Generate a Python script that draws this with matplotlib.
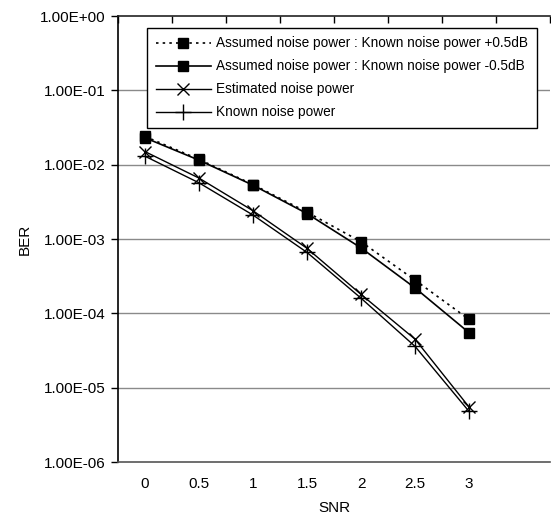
import matplotlib.pyplot as plt
import numpy as np

plt.rcParams['font.family'] = ['Liberation Sans', 'DejaVu Sans']

# ── data ─────────────────────────────────────────────────────────────────────
snr = [0, 0.5, 1, 1.5, 2, 2.5, 3]
ber_plus05 = [0.024, 0.0118, 0.0054, 0.0023, 9.2e-4, 2.8e-4, 8.3e-5]
ber_minus05 = [0.023, 0.0115, 0.0053, 0.0022, 7.6e-4, 2.2e-4, 5.5e-5]
ber_estimated = [0.015, 0.0066, 0.0024, 7.5e-4, 1.8e-4, 4.5e-5, 5.5e-6]
ber_known = [0.013, 0.0057, 0.0021, 6.6e-4, 1.6e-4, 3.6e-5, 4.8e-6]

labels = ['Assumed noise power : Known noise power +0.5dB',
          'Assumed noise power : Known noise power -0.5dB',
          'Estimated noise power',
          'Known noise power']
yticks = [1e0, 1e-1, 1e-2, 1e-3, 1e-4, 1e-5, 1e-6]
ytick_labels = ['1.00E+00', '1.00E-01', '1.00E-02', '1.00E-03',
                '1.00E-04', '1.00E-05', '1.00E-06']
xtick_labels = ['0', '0.5', '1', '1.5', '2', '2.5', '3']

fig = plt.figure(figsize=(5.51, 5.22), dpi=100)
fig.patch.set_facecolor('white')
ax = fig.add_axes([0.2142, 0.1149, 0.784, 0.8544])

ax.set_yscale('log')
ax.set_ylim(1e-6, 1e0)
ax.set_xlim(-0.25, 3.75)

# gridlines
for v in yticks[1:-1]:
    ax.axhline(v, color='#8a8a8a', lw=1.0, zorder=1)

ax.plot(snr, ber_plus05, color='black', ls=(0, (1.5, 2.5)), lw=1.2,
        marker='s', ms=6.5, mfc='black', mec='black', label=labels[0], zorder=3)
ax.plot(snr, ber_minus05, color='black', ls='-', lw=1.2,
        marker='s', ms=6.5, mfc='black', mec='black', label=labels[1], zorder=3)
ax.plot(snr, ber_estimated, color='black', ls='-', lw=1.0,
        marker='x', ms=9, mew=1.0, label=labels[2], zorder=3)
ax.plot(snr, ber_known, color='black', ls='-', lw=1.0,
        marker='+', ms=11, mew=1.0, label=labels[3], zorder=3)

# spines
ax.spines['right'].set_visible(False)
ax.spines['left'].set_color('black')
ax.spines['left'].set_linewidth(1.2)
ax.spines['top'].set_color('#222222')
ax.spines['top'].set_linewidth(1.2)
ax.spines['bottom'].set_color('#555555')
ax.spines['bottom'].set_linewidth(1.2)

# y ticks
ax.set_yticks(yticks)
ax.set_yticklabels(ytick_labels, fontsize=11)
ax.minorticks_off()
ax.tick_params(axis='y', direction='out', length=5, width=1, pad=4)

# x ticks: labels at categories, marks at category boundaries on top
ax.set_xticks(snr)
ax.set_xticklabels(xtick_labels, fontsize=11)
ax.tick_params(axis='x', length=0, pad=11)
ax.set_xticks(np.arange(-0.25, 3.8, 0.5), minor=True)
ax.tick_params(axis='x', which='minor', top=True, bottom=False,
               direction='in', length=5, width=1)

ax.set_xlabel('SNR', fontsize=11, labelpad=7)
ax.set_ylabel('BER', fontsize=11, labelpad=6)

leg = ax.legend(loc='upper left', bbox_to_anchor=(0.068, 0.974),
                fontsize=9.8, frameon=True, fancybox=False,
                edgecolor='black', framealpha=1, handlelength=4.0,
                labelspacing=0.66, borderpad=0.65, handletextpad=0.4,
                borderaxespad=0)
leg.get_frame().set_linewidth(1.0)

fig.savefig('out.png', dpi=100, facecolor='white')
